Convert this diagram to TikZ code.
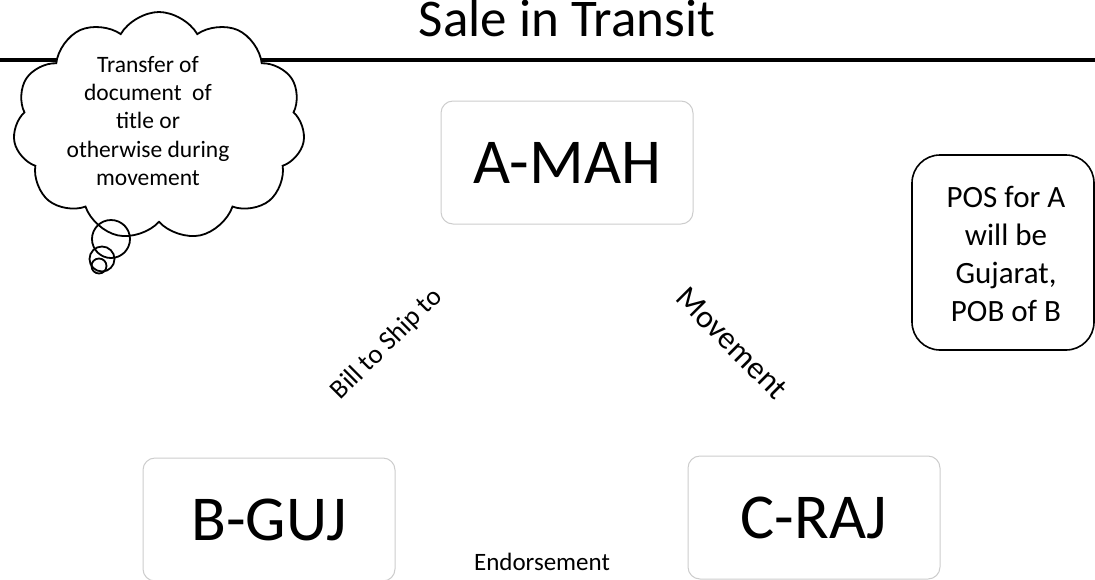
\documentclass[tikz,border=0pt]{standalone}
\usepackage{fontspec}
\setmainfont{Carlito}
\usetikzlibrary{shapes.symbols}
\definecolor{boxgray}{RGB}{205,205,205}
\begin{document}
\begin{tikzpicture}[x=1pt,y=-1pt,
  statebox/.style={draw=boxgray, line width=1pt, rounded corners=12pt, fill=white,
    minimum width=252pt, minimum height=123pt, inner sep=0pt,
    font=\fontsize{64}{70}\selectfont},
  plain/.style={inner sep=0pt},
  thought/.style={cloud, draw=black, line width=1.8pt, fill=white, cloud puffs=11,
    cloud puff arc=120, aspect=1.28, minimum width=292pt, minimum height=228pt, inner sep=0pt},
  bubble/.style={circle, draw=black, line width=1.8pt, inner sep=0pt},
  notebox/.style={draw=black, line width=1.6pt, rounded corners=28pt,
    minimum width=182pt, minimum height=195pt, inner sep=0pt}
]
\useasboundingbox (0,0) rectangle (1095,579);

% title and rule
\node[plain, anchor=base, font=\fontsize{53}{60}\selectfont] (title) at (567,36) {Sale in Transit};
\coordinate (ruleL) at (0,60);
\coordinate (ruleR) at (1095,60);
\draw[line width=3.5pt] (ruleL) -- (ruleR);

% thought cloud with its trailing bubbles
\node[thought] (cloud) at (159,126) {};
\node[plain, align=center, font=\fontsize{23.5}{28.4}\selectfont] (cloudtext) at (148,121)
  {Transfer of\\document\ \ of\\title or\\otherwise during\\movement};
\node[bubble, minimum size=38pt] (bubbleA) at (111,239) {};
\node[bubble, minimum size=25pt] (bubbleB) at (102,259) {};
\node[bubble, minimum size=15pt] (bubbleC) at (99,266) {};

% parties
\node[statebox] (amah) at (567,162.5) {A-MAH};
\node[statebox] (bguj) at (269,519.5) {B-GUJ};
\node[statebox] (craj) at (814,517.5) {C-RAJ};

% relation labels
\node[plain, rotate=45, font=\fontsize{27}{32}\selectfont] (billship) at (387,344) {Bill to Ship to};
\node[plain, rotate=-45, font=\fontsize{32}{38}\selectfont] (movement) at (732,343) {Movement};
\node[plain, anchor=base, font=\fontsize{25}{30}\selectfont] (endorse) at (542,570) {Endorsement};

% place-of-supply note
\node[notebox] (pos) at (1003,252.5) {};
\node[plain, align=center, font=\fontsize{31}{37.8}\selectfont] (postext) at (1006,254)
  {POS for A\\will be\\Gujarat,\\POB of B};
\end{tikzpicture}
\end{document}
